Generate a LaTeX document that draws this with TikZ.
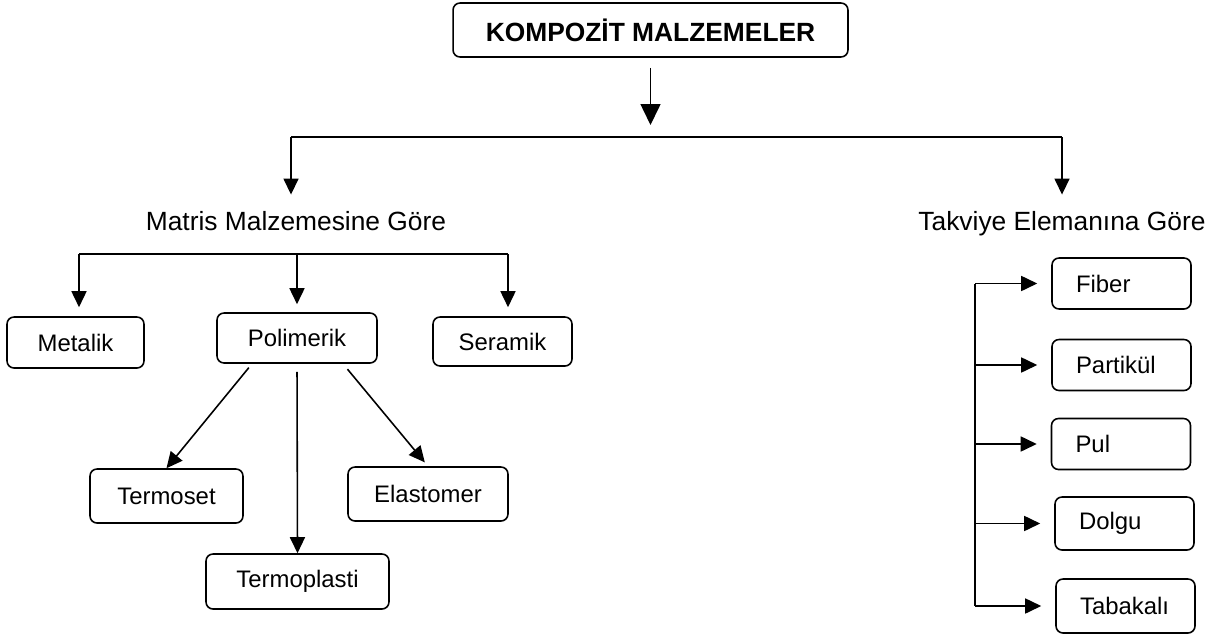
\documentclass[tikz,border=0pt]{standalone}
\usepackage{fontspec}
\setmainfont{Liberation Sans}
\usetikzlibrary{positioning,arrows.meta}
\tikzset{
  box/.style={draw,line width=0.9pt,rounded corners=0.14cm,
    font=\fontsize{13.6}{16}\selectfont,minimum height=1.02cm,inner sep=0pt},
  rbox/.style={box,text width=1.82cm,align=left,inner xsep=0.48cm},
  head/.style={font=\fontsize{15}{18}\selectfont,inner sep=0pt,anchor=base},
  arr/.style={line width=0.9pt,-{Triangle[length=0.32cm,width=0.3cm]}},
  bus/.style={line width=0.9pt}
}

\begin{document}
\begin{tikzpicture}[x=0.02cm,y=-0.02cm]
\useasboundingbox (0,0) rectangle (1219,635);

% top
\node[box,font=\fontsize{15}{18}\selectfont\bfseries,minimum width=7.9cm,minimum height=1.08cm] (title) at (650.5,30) {KOMPOZİT MALZEMELER};
\node[head] (matris) at (296,230) {Matris Malzemesine Göre};
\node[head] (takviye) at (1062,230) {Takviye Elemanına Göre};

\coordinate (busL) at (291,137);
\coordinate (busR) at (1062,137);
\draw[line width=1.6pt] (busL) -- (busR);
\draw[line width=0.9pt,-{Triangle[length=0.42cm,width=0.4cm]},shorten <=0.2cm,shorten >=0.24cm] (title.south) -- (title.south |- busL);
\draw[arr,shorten >=0.32cm] (busL) -- (busL |- matris.north);
\draw[arr,shorten >=0.32cm] (busR) -- (busR |- takviye.north);

% matris
\node[box,minimum width=2.74cm] (metalik) at (75.5,342.5) {Metalik};
\node[box,minimum width=3.2cm,minimum height=1.0cm] (polimerik) at (297,338) {Polimerik};
\node[box,minimum width=2.78cm,minimum height=0.98cm] (seramik) at (502.5,341.5) {Seramik};
\node[box,minimum width=3.06cm,minimum height=1.08cm] (termoset) at (166.5,496) {Termoset};
\node[box,minimum width=3.2cm,minimum height=1.08cm] (elastomer) at (428,494) {Elastomer};
\node[box,minimum width=3.66cm,minimum height=1.1cm] (termoplasti) at (297.5,581.5) {Termoplasti};

\coordinate (mL) at (79,254);
\coordinate (mR) at (508,254);
\draw[bus] (mL) -- (mR);
\draw[arr,shorten >=0.18cm] (mL) -- (mL |- metalik.north);
\draw[arr,shorten >=0.16cm] (mL -| polimerik.north) -- (polimerik.north);
\draw[arr,shorten >=0.18cm] (mR) -- (mR |- seramik.north);

\draw[arr,shorten <=0.1cm] ([xshift=-0.9cm]polimerik.south) -- (termoset.north);
\draw[arr,shorten <=0.16cm] (polimerik.south) -- (termoplasti.north);
\draw[arr,shorten <=0.14cm,shorten >=0.1cm] ([xshift=0.92cm]polimerik.south) -- (elastomer.north);

% takviye
\node[rbox] (fiber) at (1121.5,283.5) {Fiber};
\node[rbox] (partikul) at (1121.5,365) {Partikül};
\node[rbox] (pul) at (1121,444) {Pul};
\node[rbox,minimum height=1.06cm] (dolgu) at (1124.5,523.5) {Dolgu};
\node[rbox,minimum height=1.08cm] (tabakali) at (1125.5,606) {Tabakalı};

\coordinate (spine) at (975,0);
\draw[bus] (spine |- fiber.west) -- (spine |- tabakali.west);
\foreach \n in {fiber,partikul,pul,dolgu,tabakali}
  \draw[arr,shorten >=0.28cm] (spine |- \n.west) -- (\n.west);
\end{tikzpicture}
\end{document}
